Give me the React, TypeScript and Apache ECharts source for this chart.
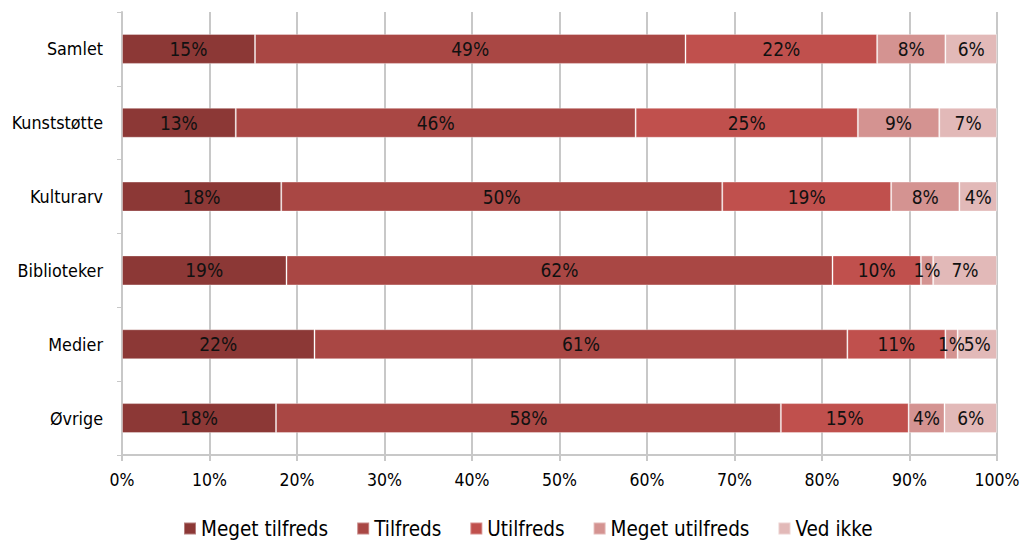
import React, { useEffect, useRef } from "react";
import * as echarts from "echarts";

// Satisfaction survey per area, share of respondents (%)
const categories = ["Samlet", "Kunststøtte", "Kulturarv", "Biblioteker", "Medier", "Øvrige"];
const seriesNames = ["Meget tilfreds", "Tilfreds", "Utilfreds", "Meget utilfreds", "Ved ikke"];

const megetTilfreds = [15.2, 13.0, 18.2, 18.8, 22.0, 17.6];
const tilfreds = [49.2, 45.7, 50.4, 62.4, 60.9, 57.7];
const utilfreds = [21.9, 25.4, 19.3, 10.1, 11.2, 14.6];
const megetUtilfreds = [7.8, 9.3, 7.8, 1.4, 1.4, 4.1];
const vedIkke = [5.9, 6.6, 4.3, 7.3, 4.5, 6.0];

const seriesValues = [megetTilfreds, tilfreds, utilfreds, megetUtilfreds, vedIkke];
const colors = ["#8c3836", "#a94744", "#c0504d", "#d49391", "#e2b9b8"];

const FONT = "'DejaVu Sans Condensed', 'DejaVu Sans', sans-serif";

export default function App() {
  const ref = useRef<HTMLDivElement>(null);

  useEffect(() => {
    if (!ref.current) return;
    const chart = echarts.init(ref.current, null, { renderer: "svg" });
    chart.setOption({
      animation: false,
      textStyle: { fontFamily: FONT },
      grid: { left: 122, right: 33, top: 12, bottom: 89, containLabel: false },
      legend: {
        top: 518,
        left: 183,
        padding: 0,
        icon: "rect",
        itemWidth: 12,
        itemHeight: 12,
        itemGap: 28,
        textStyle: { fontFamily: FONT, fontSize: 20.5, color: "#000" },
        data: seriesNames,
      },
      xAxis: {
        type: "value",
        min: 0,
        max: 100,
        interval: 10,
        axisLabel: {
          formatter: "{value}%",
          fontFamily: FONT,
          fontSize: 17.5,
          color: "#000",
          margin: 16,
        },
        axisLine: { show: true, lineStyle: { color: "#c8c8c8", width: 2 } },
        axisTick: { show: true, length: 6, lineStyle: { color: "#c8c8c8", width: 2 } },
        splitLine: { show: true, lineStyle: { color: "#c8c8c8", width: 2 } },
      },
      yAxis: {
        type: "category",
        inverse: true,
        data: categories,
        axisLabel: { fontFamily: FONT, fontSize: 17.8, color: "#000", margin: 19 },
        axisLine: { show: true, lineStyle: { color: "#c8c8c8", width: 2 } },
        axisTick: { show: true, length: 5, lineStyle: { color: "#c8c8c8", width: 1 } },
        splitLine: { show: false },
      },
      series: seriesNames.map((name, i) => ({
        name,
        type: "bar",
        stack: "total",
        barWidth: 30,
        data: seriesValues[i],
        itemStyle: {
          color: colors[i],
          borderColor: "rgba(255,255,255,0.35)",
          borderWidth: 1,
        },
        label: {
          show: true,
          position: "inside",
          formatter: (p: any) => `${Math.round(p.value)}%`,
          fontFamily: FONT,
          fontSize: 19,
          color: "#111",
        },
      })),
    });
    return () => chart.dispose();
  }, []);

  return (
    <div
      ref={ref}
      style={{ width: 1030, height: 544, position: "absolute", left: 0, top: 0, background: "#fff" }}
    />
  );
}
